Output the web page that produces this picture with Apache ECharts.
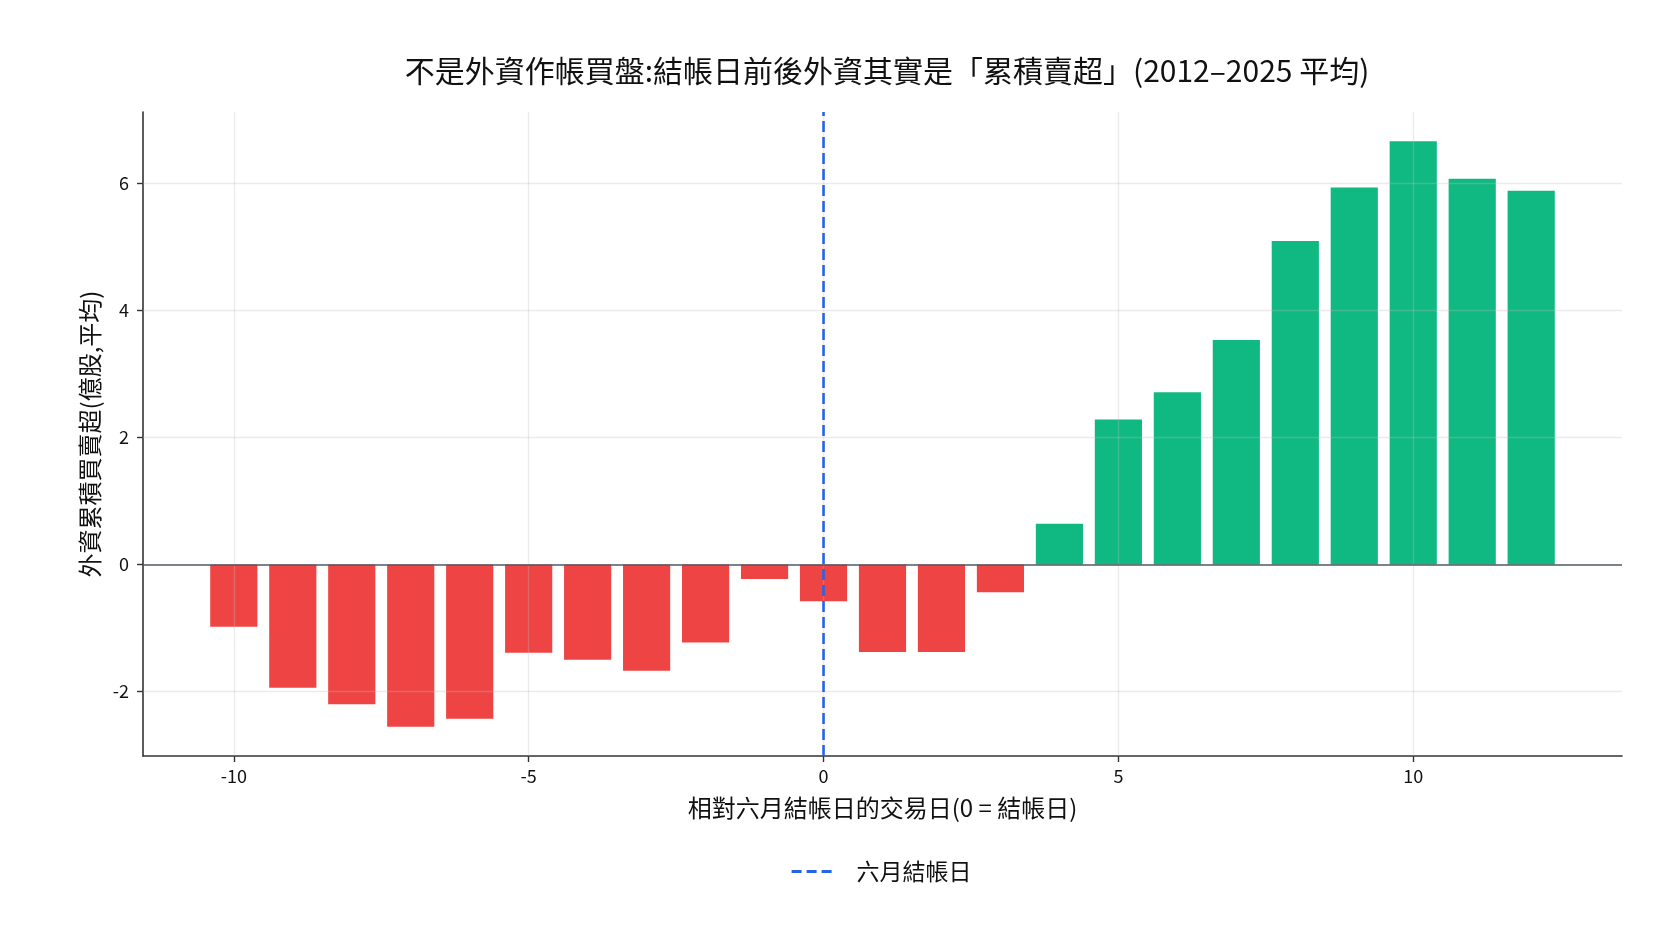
<!DOCTYPE html>
<html>
<head>
<meta charset="utf-8">
<script src="https://cdn.jsdelivr.net/npm/echarts@6/dist/echarts.min.js"></script>
<style>
html,body{margin:0;padding:0;background:#fff;}
#chart{width:1680px;height:945px;}
</style>
</head>
<body>
<div id="chart"></div>
<script>
// ---- data ----
const days = [-10,-9,-8,-7,-6,-5,-4,-3,-2,-1,0,1,2,3,4,5,6,7,8,9,10,11,12];
const cumNet = [-0.98,-1.94,-2.20,-2.555,-2.43,-1.39,-1.50,-1.675,-1.23,-0.23,-0.58,-1.38,-1.38,-0.44,0.64,2.28,2.71,3.53,5.09,5.93,6.66,6.07,5.88];
const xTicks = [-10,-5,0,5,10];
const yTicks = [-2,0,2,4,6];
const settleDay = 0;
const titleText = '不是外資作帳買盤:結帳日前後外資其實是「累積賣超」(2012–2025 平均)';
const xName = '相對六月結帳日的交易日(0 = 結帳日)';
const yName = '外資累積買賣超(億股,平均)';
const lineName = '六月結帳日';

const FONT = '"Noto Sans CJK TC","Noto Sans",sans-serif';
const RED = '#ef4444', GREEN = '#10b981', BLUE = '#2563eb';
const xMin = -11.54, xMax = 13.54, yMin = -3.016, yMax = 7.12;

const chart = echarts.init(document.getElementById('chart'), null, {renderer:'canvas'});
const gridColor = 'rgba(190,190,190,0.3)';

const option = {
  backgroundColor:'#fff',
  animation:false,
  title:{
    text:titleText, left:882, top:51, textAlign:'center',
    textStyle:{fontFamily:FONT, fontSize:30, fontWeight:'normal', color:'#111'}
  },
  legend:{
    data:[lineName], left:785, top:855, itemWidth:44, itemHeight:14,
    itemStyle:{opacity:0},
    lineStyle:{width:3.2, type:[10,5]},
    textStyle:{fontFamily:FONT, fontSize:23, color:'#111', padding:[0,0,0,16]}
  },
  grid:{left:143, right:58, top:112, bottom:189, containLabel:false},
  xAxis:{
    type:'value', min:xMin, max:xMax,
    name:xName, nameLocation:'middle', nameGap:40,
    nameTextStyle:{fontFamily:FONT, fontSize:24, color:'#111'},
    axisLine:{show:true, onZero:false, lineStyle:{color:'#333', width:1.6}},
    axisTick:{show:true, customValues:xTicks, length:6, lineStyle:{color:'#333', width:1.4}},
    axisLabel:{customValues:xTicks, fontFamily:FONT, fontSize:18, color:'#111', margin:11,
      formatter:v=>String(v)},
    splitLine:{show:false}
  },
  yAxis:{
    type:'value', min:yMin, max:yMax,
    name:yName, nameLocation:'middle', nameGap:40,
    nameTextStyle:{fontFamily:FONT, fontSize:24, color:'#111'},
    axisLine:{show:true, onZero:false, lineStyle:{color:'#333', width:1.6}},
    axisTick:{show:true, customValues:yTicks, length:6, lineStyle:{color:'#333', width:1.4}},
    axisLabel:{customValues:yTicks, fontFamily:FONT, fontSize:18, color:'#111', margin:14,
      formatter:v=>String(v)},
    splitLine:{show:false}
  },
  series:[
    {
      id:'bars', type:'bar', name:'bars', barWidth:47, z:2,
      data: days.map((d,i)=>({value:[d, cumNet[i]], itemStyle:{color: cumNet[i] < 0 ? RED : GREEN}})),
      itemStyle:{opacity:1}
    },
    {
      id:'grid', type:'line', name:'grid', data:[], silent:true, z:3, symbol:'none',
      markLine:{
        silent:true, symbol:['none','none'], label:{show:false}, animation:false, z:3,
        data:[
          ...xTicks.map(v=>({xAxis:v, lineStyle:{color:gridColor, width:1.4, type:'solid'}})),
          ...yTicks.filter(v=>v!==0).map(v=>({yAxis:v, lineStyle:{color:gridColor, width:1.4, type:'solid'}})),
          {yAxis:0, lineStyle:{color:'#4f5866', width:1.6, type:'solid'}}
        ]
      }
    },
    {
      id:'settle', type:'line', name:lineName, z:6, symbol:'none', silent:true,
      data:[[settleDay, yMin],[settleDay, yMax]],
      lineStyle:{color:BLUE, width:2.6, type:[11,5]},
      itemStyle:{color:BLUE}
    }
  ]
};
chart.setOption(option);
const bw = chart.convertToPixel({xAxisIndex:0}, 0.8) - chart.convertToPixel({xAxisIndex:0}, 0);
chart.setOption({series:[{id:'bars', barWidth: bw}]});
</script>
</body>
</html>
